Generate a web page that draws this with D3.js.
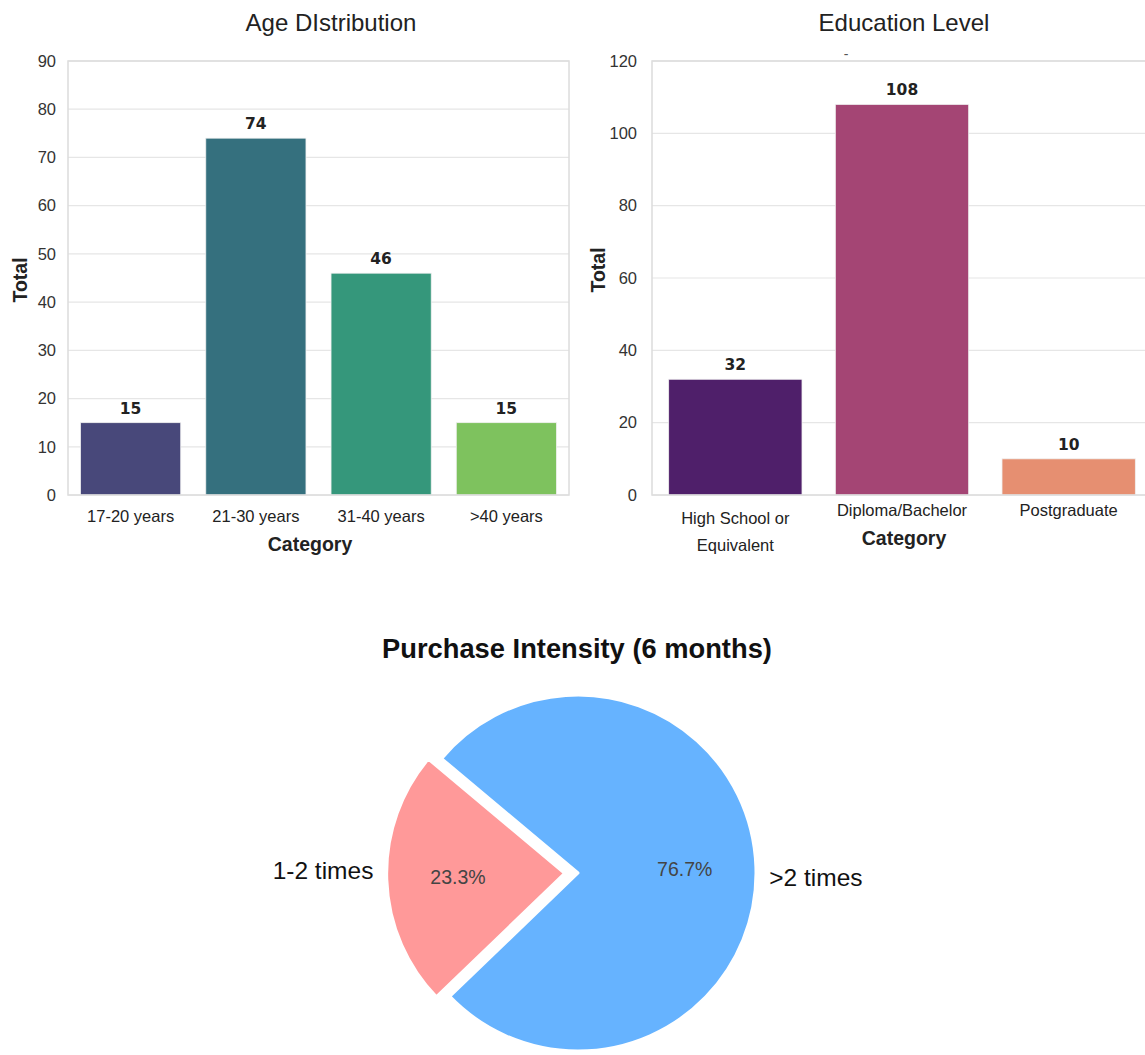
<!DOCTYPE html>
<html><head><meta charset="utf-8">
<script src="https://cdn.jsdelivr.net/npm/d3@7"></script>
<style>body{margin:0;background:#fff}svg{display:block}text{font-family:"Liberation Sans",Arial,sans-serif}</style>
</head><body><svg id="c" width="1145" height="1055"></svg>
<script>
const ageCategories = ["17-20 years","21-30 years","31-40 years",">40 years"];
const ageValues = [15,74,46,15];
const ageColors = ["#48487a","#35707e","#35977b","#7ec25e"];
const ageTicks = [0,10,20,30,40,50,60,70,80,90];

const eduCategories = ["High School or\nEquivalent","Diploma/Bachelor","Postgraduate"];
const eduValues = [32,108,10];
const eduColors = ["#4f1f6a","#a44574","#e68f71"];
const eduTicks = [0,20,40,60,80,100,120];

const pieLabels = ["1-2 times",">2 times"];
const pieValues = [23.3,76.7];
const pieColors = ["#ff9999","#66b3ff"];

const svg = d3.select("#c");

function barChart(o){
  const g = svg.append("g");
  const x = d3.scaleBand().domain(o.cats).range([o.x0,o.x1]).paddingInner(0.2).paddingOuter(0.1);
  const y = d3.scaleLinear().domain([0,o.max]).range([495,61]);
  g.selectAll(".gl").data(o.ticks).join("line")
    .attr("x1",o.x0).attr("x2",o.x1).attr("y1",d=>y(d)).attr("y2",d=>y(d))
    .attr("stroke","#e6e6e6").attr("stroke-width",1.2);
  g.selectAll(".b").data(o.vals).join("rect")
    .attr("x",(d,i)=>x(o.cats[i])).attr("width",x.bandwidth())
    .attr("y",d=>y(d)).attr("height",d=>y(0)-y(d))
    .attr("fill",(d,i)=>o.colors[i]).attr("stroke","#f0f0f0").attr("stroke-width",0.8);
  g.append("rect").attr("x",o.x0).attr("y",61).attr("width",o.x1-o.x0).attr("height",434)
    .attr("fill","none").attr("stroke","#dcdcdc").attr("stroke-width",1.5);
  const ya = d3.axisLeft(y).tickValues(o.ticks).tickSize(0).tickPadding(0);
  const yg = g.append("g").attr("transform",`translate(${o.x0-o.yPad},0)`).call(ya);
  yg.select(".domain").remove();
  yg.selectAll("text").attr("font-size",16.5).attr("fill","#333");
  o.cats.forEach((c,i)=>{
    const lines = c.split("\n");
    const cx = x(c)+x.bandwidth()/2;
    const t = g.append("text").attr("x",cx).attr("text-anchor","middle").attr("font-size",16.5).attr("fill","#222");
    if(lines.length===1){ t.attr("y",o.xLabY).text(c); }
    else lines.forEach((l,k)=>t.append("tspan").attr("x",cx).attr("y",o.xLabY+8+k*27).text(l));
  });
  g.selectAll(".v").data(o.vals).join("text")
    .attr("x",(d,i)=>x(o.cats[i])+x.bandwidth()/2).attr("y",d=>y(d)-9)
    .attr("text-anchor","middle").attr("font-size",15.5).attr("font-weight","bold")
    .style("font-family","'DejaVu Sans', sans-serif").attr("fill","#222").text(d=>d);
  g.append("text").attr("x",o.titleX).attr("y",31).attr("text-anchor","middle")
    .attr("font-size",24).attr("fill","#222").text(o.title);
  g.append("text").attr("transform",`translate(${o.ylabX},${o.ylabY}) rotate(-90)`).attr("text-anchor","middle")
    .attr("font-size",19.5).attr("font-weight","bold").attr("fill","#222").text("Total");
  g.append("text").attr("x",o.catX).attr("y",o.catY).attr("text-anchor","middle")
    .attr("font-size",19.5).attr("font-weight","bold").attr("fill","#222").text("Category");
}

barChart({cats:ageCategories, vals:ageValues, colors:ageColors, ticks:ageTicks, max:90, yPad:12,
  x0:68, x1:569, xLabY:522, title:"Age DIstribution", titleX:331, ylabX:27, ylabY:280, catX:310, catY:551});
barChart({cats:eduCategories, vals:eduValues, colors:eduColors, ticks:eduTicks, max:120, yPad:15,
  x0:652, x1:1152, xLabY:516, title:"Education Level", titleX:904, ylabX:605, ylabY:270, catX:904, catY:545});
svg.append("text").attr("x",846).attr("y",59).attr("text-anchor","middle").attr("font-size",14).attr("fill","#555").text("-");

// pie (matplotlib style: counter-clockwise from 140°)
const cx = 578, cy = 873, R = 178;
const pieD = d3.pie().sort(null).startAngle(310*Math.PI/180).endAngle(-50*Math.PI/180)(pieValues);
const arc = d3.arc().innerRadius(0).outerRadius(R);
const pg = svg.append("g").attr("transform",`translate(${cx},${cy})`);
const explode = [0.075,0];
const labelShift = [-10,11];
pieD.forEach((d,i)=>{
  const a0 = Math.min(d.startAngle,d.endAngle), a1 = Math.max(d.startAngle,d.endAngle);
  const dd = {startAngle:a0,endAngle:a1};
  const mid = (a0+a1)/2;
  const ox = Math.sin(mid)*explode[i]*R, oy = -Math.cos(mid)*explode[i]*R;
  const wg = pg.append("g").attr("transform",`translate(${ox},${oy})`);
  wg.append("path").attr("d",arc(dd)).attr("fill",pieColors[i]).attr("stroke","#fff").attr("stroke-width",3).attr("stroke-linejoin","round");
  const px = Math.sin(mid)*0.6*R, py = -Math.cos(mid)*0.6*R;
  wg.append("text").attr("x",px).attr("y",py).attr("dy","0.35em").attr("text-anchor","middle")
    .attr("font-size",19.5).attr("fill","#444").text(pieValues[i].toFixed(1)+"%");
  const lx = Math.sin(mid)*1.075*R, ly = -Math.cos(mid)*1.075*R + labelShift[i];
  wg.append("text").attr("x",lx).attr("y",ly).attr("dy","0.35em")
    .attr("text-anchor", lx<0?"end":"start").attr("font-size",24.5).attr("fill","#111").text(pieLabels[i]);
});
svg.append("text").attr("x",577).attr("y",658).attr("text-anchor","middle").attr("font-size",27.3)
  .attr("font-weight","bold").attr("fill","#111").text("Purchase Intensity (6 months)");
</script></body></html>
